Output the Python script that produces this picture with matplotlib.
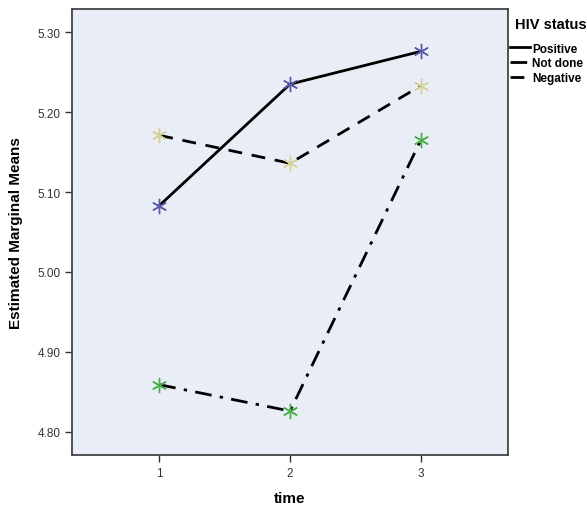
import numpy as np
import matplotlib
matplotlib.use("Agg")
import matplotlib.pyplot as plt

plt.rcParams['font.family'] = ['Liberation Sans', 'DejaVu Sans']

# Estimated marginal means
time_points = [1, 2, 3]
positive = [5.083, 5.235, 5.276]
not_done = [4.859, 4.826, 5.165]
negative = [5.171, 5.136, 5.233]
y_ticks = [4.80, 4.90, 5.00, 5.10, 5.20, 5.30]

fig = plt.figure(figsize=(5.87, 5.06), dpi=100)
ax = fig.add_axes([0.1227, 0.0988, 0.7428, 0.8814])
ax.set_facecolor('#e9edf5')

star = (6, 2, 0)
l_pos, = ax.plot(time_points, positive, color='black', lw=2.0, ls='-', label='Positive')
l_nd, = ax.plot(time_points, not_done, color='black', lw=2.0, ls=(0, (6, 3, 1.2, 3)), label='Not done')
l_neg, = ax.plot(time_points, negative, color='black', lw=2.0, ls=(0, (5, 3.5)), label='Negative')
ax.plot(time_points, positive, ls='none', marker=star, ms=11, mew=1.0, mec='#5858a8', zorder=5)
ax.plot(time_points, not_done, ls='none', marker=star, ms=11, mew=1.0, mec='#46b046', zorder=5)
ax.plot(time_points, negative, ls='none', marker=star, ms=11, mew=1.0, mec='#d6cf94', zorder=5)

ax.set_xlim(0.333, 3.667)
ax.set_ylim(4.771, 5.329)
ax.set_xticks(time_points)
ax.set_xticklabels([str(t) for t in time_points])
ax.set_yticks(y_ticks)
ax.set_yticklabels([f"{v:.2f}" for v in y_ticks])
ax.tick_params(axis='both', direction='out', length=5, width=1, color='#333333',
               labelsize=8.5, labelcolor='#333333')
for s in ax.spines.values():
    s.set_color('#444444')
    s.set_linewidth(1.3)

ax.set_xlabel('time', fontsize=11, fontweight='bold', labelpad=9)
ax.set_ylabel('Estimated Marginal Means', fontsize=11, fontweight='bold', labelpad=10)

# legend: title and entries placed separately, as in the SPSS output
fig.text(0.877, 0.951, 'HIV status', fontsize=10.5, fontweight='bold', va='center', ha='left')
ax.legend(handles=[l_pos, l_nd, l_neg], loc='upper left',
          bbox_to_anchor=(0.868, 0.914), bbox_transform=fig.transFigure,
          frameon=False, handlelength=1.75, handletextpad=0.15, labelspacing=0.25,
          borderaxespad=0.0, borderpad=0.0, prop={'weight': 'bold', 'size': 8.5})

fig.savefig('out.png', dpi=100)
